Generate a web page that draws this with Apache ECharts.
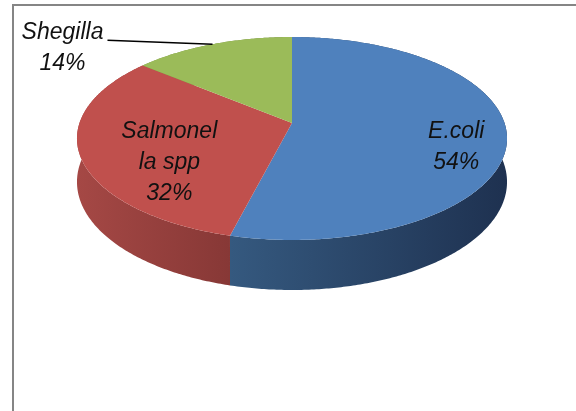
<!DOCTYPE html>
<html><head><meta charset="utf-8">
<script src="https://cdn.jsdelivr.net/npm/echarts@6/dist/echarts.min.js"></script>
<style>html,body{margin:0;padding:0;background:#fff}#c{width:576px;height:411px}</style>
</head><body><div id="c"></div>
<script>
// ---- data ----
const categories = ['E.coli', 'Salmonella spp', 'Shegilla'];
const labelTexts = ['E.coli', 'Salmonel\nla spp', 'Shegilla'];
const values = [54, 32, 14];

// ---- style ----
const topColors = ['#4F81BD', '#C0504D', '#9BBB59'];
const sideColors = [['#35597F', '#1E3150'], ['#A54845', '#873836'], ['#7E9A45', '#6A823A']];
const labelPlacement = ['inside', 'inside', 'outside'];
const labelRadius = [0.77, 0.6, 1];
const labelDy = [-3, 3, 1];

const CX = 292, CY = 123, KX = 212.5, KY = 99.1, PC = 0.1527, DEPTH = 42.4;
const ECX = 292, ECY = 140.5, ERX = 215, ERY = 101.5;
const FONT = 'Liberation Sans';

function proj(a, r, drop) {
  const u = Math.sin(a) * r, v = -Math.cos(a) * r, w = 1 - PC * v;
  return [CX + KX * u / w, CY + KY * v / w + (drop ? DEPTH / w : 0)];
}
const total = values.reduce((s, v) => s + v, 0);
function angles(i) {
  let s = 0;
  for (let k = 0; k < i; k++) s += values[k];
  return [s / total * 2 * Math.PI, (s + values[i]) / total * 2 * Math.PI];
}
function arc(a0, a1, drop) {
  const n = Math.max(2, Math.ceil((a1 - a0) / 0.01));
  const pts = [];
  for (let j = 0; j <= n; j++) pts.push(proj(a0 + (a1 - a0) * j / n, 1, drop));
  return pts;
}
const seriesData = values.map((v, i) => ({ value: v, name: categories[i] }));

const chart = echarts.init(document.getElementById('c'), null, { renderer: 'canvas' });
chart.setOption({
  animation: false,
  backgroundColor: '#fff',
  graphic: [{
    type: 'rect', z: 100, silent: true,
    shape: { x: 13, y: 5, width: 700, height: 600 },
    style: { fill: 'none', stroke: '#858585', lineWidth: 2 }
  }],
  series: [
    {
      type: 'custom', coordinateSystem: 'none', z: 1, data: seriesData,
      renderItem: function (params, api) {
        const i = params.dataIndex;
        const [a0, a1] = angles(i);
        const pts = arc(a0, a1, false).concat(arc(a0, a1, true).reverse());
        return {
          type: 'polygon', shape: { points: pts },
          style: { fill: new echarts.graphic.LinearGradient(0, 0, 1, 0, [
            { offset: 0, color: sideColors[i][0] }, { offset: 1, color: sideColors[i][1] }]) }
        };
      }
    },
    {
      type: 'custom', coordinateSystem: 'none', z: 2, data: seriesData,
      renderItem: function (params, api) {
        const i = params.dataIndex;
        const [a0, a1] = angles(i);
        const pts = [[CX, CY]].concat(arc(a0, a1, false));
        return { type: 'polygon', shape: { points: pts }, style: { fill: topColors[i] } };
      }
    },
    {
      type: 'custom', coordinateSystem: 'none', z: 3, data: seriesData,
      renderItem: function (params, api) {
        const i = params.dataIndex;
        const [a0, a1] = angles(i);
        const mid = (a0 + a1) / 2;
        const pct = Math.round(api.value(0) / total * 100) + '%';
        const txtStyle = (t) => ({
          text: t, fill: '#111', fontStyle: 'italic', fontSize: 23, fontFamily: FONT,
          align: 'center', verticalAlign: 'middle', lineHeight: 31
        });
        if (labelPlacement[i] === 'inside') {
          const r = labelRadius[i];
          const x = ECX + ERX * Math.sin(mid) * r;
          const y = ECY - ERY * Math.cos(mid) * r + labelDy[i];
          return { type: 'text', x: x, y: y, style: txtStyle(labelTexts[i] + '\n' + pct) };
        }
        const edge = proj(mid, 1, false);
        const elbow = [edge[0] - 105, edge[1] - 4];
        return {
          type: 'group', children: [
            { type: 'line', shape: { x1: edge[0], y1: edge[1], x2: elbow[0], y2: elbow[1] },
              style: { stroke: '#000', lineWidth: 1.5 } },
            { type: 'text', x: elbow[0] - 45, y: elbow[1] + 7 + labelDy[i], style: txtStyle(labelTexts[i] + '\n' + pct) }
          ]
        };
      }
    }
  ]
});
</script></body></html>
